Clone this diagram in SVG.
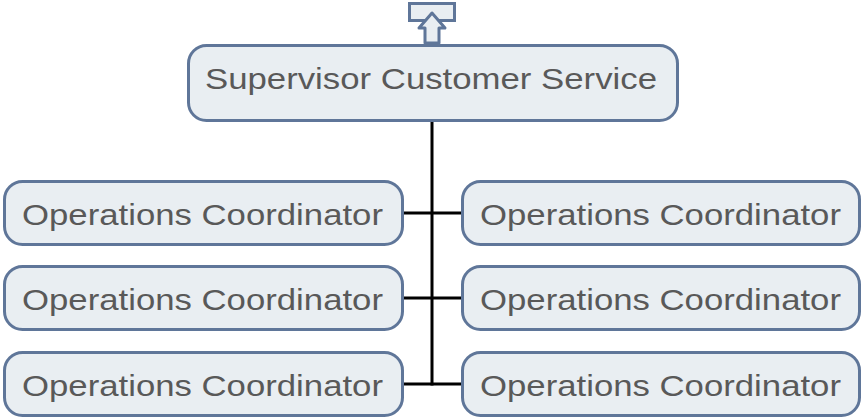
<svg xmlns="http://www.w3.org/2000/svg" width="862" height="420" viewBox="0 0 862 420">
<style>
.box{fill:#e9eef2;stroke:#5f7699;stroke-width:3}
.t{font-family:"Liberation Sans",Arial,sans-serif;font-size:29px;fill:#595959}
.c{stroke:#000;stroke-width:3;fill:none}
</style>
<rect width="862" height="420" fill="#ffffff"/>
<g id="connectors">
<line class="c" x1="432" y1="121" x2="432" y2="385.5"/>
<line class="c" x1="403" y1="213" x2="462" y2="213"/>
<line class="c" x1="403" y1="298" x2="462" y2="298"/>
<line class="c" x1="403" y1="384" x2="462" y2="384"/>
</g>
<g id="up-icon">
<rect class="box" x="409.5" y="3.5" width="45" height="17"/>
<path class="box" stroke-linejoin="round" d="M432,13 L445,28 L439,28 L439,43 L425,43 L425,28 L419,28 Z"/>
</g>
<g id="supervisor">
<rect class="box" x="188.5" y="45.5" width="489" height="75" rx="18"/>
<text class="t" x="205" y="89" textLength="452" lengthAdjust="spacingAndGlyphs">Supervisor Customer Service</text>
</g>
<g id="oc-l1">
<rect class="box" x="4.5" y="181.5" width="398" height="63" rx="18"/>
<text class="t" x="22" y="225" textLength="361" lengthAdjust="spacingAndGlyphs">Operations Coordinator</text>
</g>
<g id="oc-r1">
<rect class="box" x="462.5" y="181.5" width="397" height="63" rx="18"/>
<text class="t" x="480" y="225" textLength="361" lengthAdjust="spacingAndGlyphs">Operations Coordinator</text>
</g>
<g id="oc-l2">
<rect class="box" x="4.5" y="266.5" width="398" height="63" rx="18"/>
<text class="t" x="22" y="310" textLength="361" lengthAdjust="spacingAndGlyphs">Operations Coordinator</text>
</g>
<g id="oc-r2">
<rect class="box" x="462.5" y="266.5" width="397" height="63" rx="18"/>
<text class="t" x="480" y="310" textLength="361" lengthAdjust="spacingAndGlyphs">Operations Coordinator</text>
</g>
<g id="oc-l3">
<rect class="box" x="4.5" y="352.5" width="398" height="63" rx="18"/>
<text class="t" x="22" y="396" textLength="361" lengthAdjust="spacingAndGlyphs">Operations Coordinator</text>
</g>
<g id="oc-r3">
<rect class="box" x="462.5" y="352.5" width="397" height="63" rx="18"/>
<text class="t" x="480" y="396" textLength="361" lengthAdjust="spacingAndGlyphs">Operations Coordinator</text>
</g>
</svg>
